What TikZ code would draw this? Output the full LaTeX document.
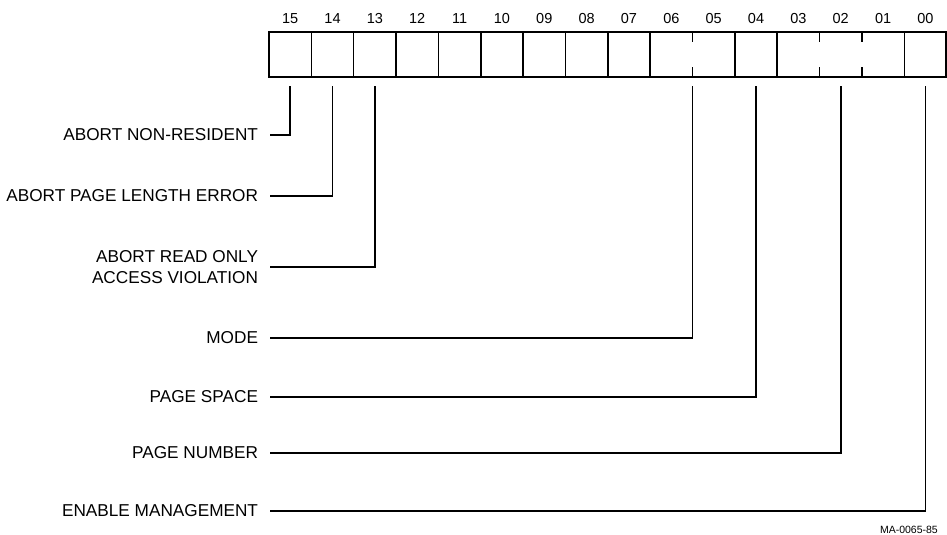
\documentclass[tikz,border=0pt]{standalone}
\usepackage{fontspec}
\setmainfont{Liberation Sans}
\begin{document}
\begin{tikzpicture}[x=1pt,y=-1pt,
  lab/.style={anchor=east, inner xsep=12pt, inner ysep=0pt, outer sep=0pt,
    font=\fontsize{17.2}{21.5}\selectfont, align=right},
  num/.style={font=\fontsize{14.5}{16}\selectfont, inner sep=0pt, anchor=base},
  conn/.style={line width=1.6pt},
  regbox/.style={line width=2.6pt},
  divider/.style={line width=1.5pt},
  tag/.style={font=\fontsize{10.5}{12}\selectfont, inner sep=0pt, anchor=east}]
\useasboundingbox (0,0) rectangle (947,535);
\def\L{269}\def\W{42.35}\def\T{32}\def\B{77}
% register outline
\draw[regbox] (\L,\T) rectangle ({\L+16*\W},\B);
% full dividers
\foreach \i in {1,...,9,11,12,15}
  \draw[divider] ({\L+\i*\W},\T) -- ({\L+\i*\W},\B);
% partial dividers (field boundaries inside a field)
\foreach \i in {10,13,14}{
  \draw[divider] ({\L+\i*\W},\T) -- ({\L+\i*\W},{\T+10});
  \draw[divider] ({\L+\i*\W},{\B-10}) -- ({\L+\i*\W},\B);
}
% bit numbers
\foreach \i/\t in {0/15,1/14,2/13,3/12,4/11,5/10,6/09,7/08,8/07,9/06,10/05,11/04,12/03,13/02,14/01,15/00}
  \node[num] (n\t) at ({\L+(\i+0.5)*\W},23.5) {\t};
% connector tops
\coordinate (b15) at ({\L+0.5*\W},86);
\coordinate (b14) at ({\L+1.5*\W},86);
\coordinate (b13) at ({\L+2.5*\W},86);
\coordinate (bmode) at ({\L+10*\W},86);
\coordinate (b04) at ({\L+11.5*\W},86);
\coordinate (b02) at ({\L+13.5*\W},86);
\coordinate (b00) at ({\L+15.5*\W},86);
% labels
\node[lab] (l15) at (270,135) {ABORT NON-RESIDENT};
\node[lab] (l14) at (270,196) {ABORT PAGE LENGTH ERROR};
\node[lab] (l13) at (270,267) {ABORT READ ONLY\\ACCESS VIOLATION};
\node[lab] (lmode) at (270,338) {MODE};
\node[lab] (l04) at (270,397) {PAGE SPACE};
\node[lab] (l02) at (270,453) {PAGE NUMBER};
\node[lab] (l00) at (270,511) {ENABLE MANAGEMENT};
% connectors
\draw[conn] (l15.east) -| (b15);
\draw[conn] (l14.east) -| (b14);
\draw[conn] (l13.east) -| (b13);
\draw[conn] (lmode.east) -| (bmode);
\draw[conn] (l04.east) -| (b04);
\draw[conn] (l02.east) -| (b02);
\draw[conn] (l00.east) -| (b00);
% figure tag
\node[tag] (tagid) at (938,530) {MA-0065-85};
\end{tikzpicture}
\end{document}
